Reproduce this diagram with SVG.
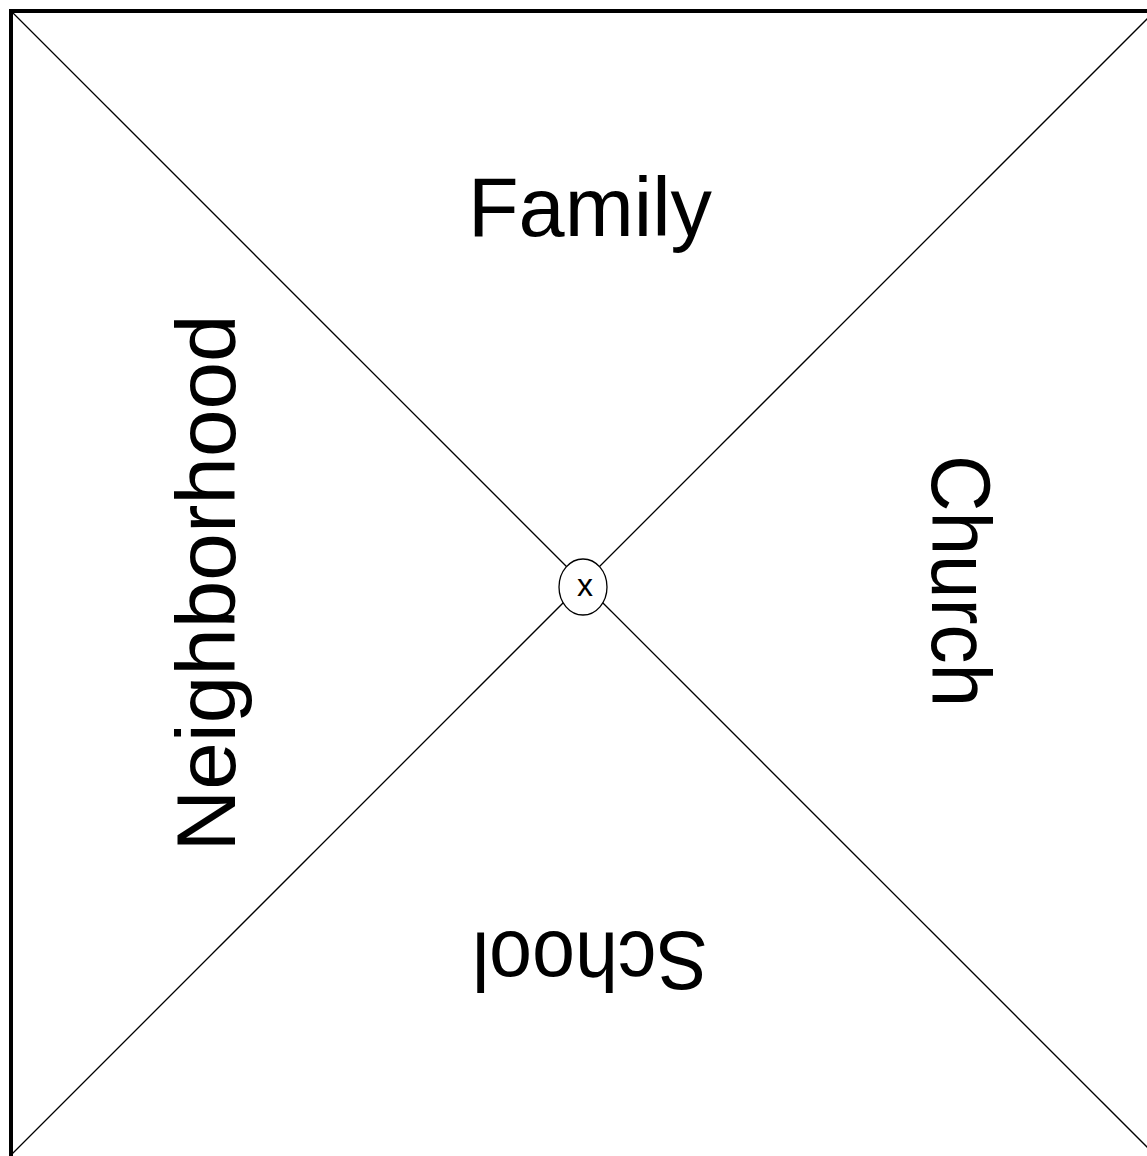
<svg xmlns="http://www.w3.org/2000/svg" width="1147" height="1156" viewBox="0 0 1147 1156">
  <style>
    .lbl { font-family: "Liberation Sans", Arial, sans-serif; font-size: 84px; fill: #000; text-anchor: middle; }
    .diag { stroke: #000; stroke-width: 1.3; fill: none; }
  </style>
  <rect x="0" y="0" width="1147" height="1156" fill="#fff"/>
  <g id="frame">
    <rect x="11" y="11" width="1160" height="1160" fill="none" stroke="#000" stroke-width="4"/>
  </g>
  <g id="connectors">
    <line class="diag" x1="12" y1="12" x2="1160" y2="1160"/>
    <line class="diag" x1="1156" y1="10" x2="12" y2="1154"/>
  </g>
  <g id="family"><text class="lbl" x="590" y="236" textLength="244" lengthAdjust="spacingAndGlyphs">Family</text></g>
  <g id="neighborhood"><text class="lbl" transform="translate(235,583) rotate(-90)" textLength="537" lengthAdjust="spacingAndGlyphs">Neighborhood</text></g>
  <g id="church"><text class="lbl" transform="translate(932,581) rotate(90)" textLength="252" lengthAdjust="spacingAndGlyphs">Church</text></g>
  <g id="school"><text class="lbl" transform="translate(590,932) rotate(180)" textLength="236" lengthAdjust="spacingAndGlyphs">School</text></g>
  <g id="center">
    <ellipse cx="583" cy="587" rx="24" ry="28" fill="#fff" stroke="#000" stroke-width="1.3"/>
    <text x="585" y="596" font-family="Liberation Sans, Arial, sans-serif" font-size="32" text-anchor="middle">x</text>
  </g>
</svg>
